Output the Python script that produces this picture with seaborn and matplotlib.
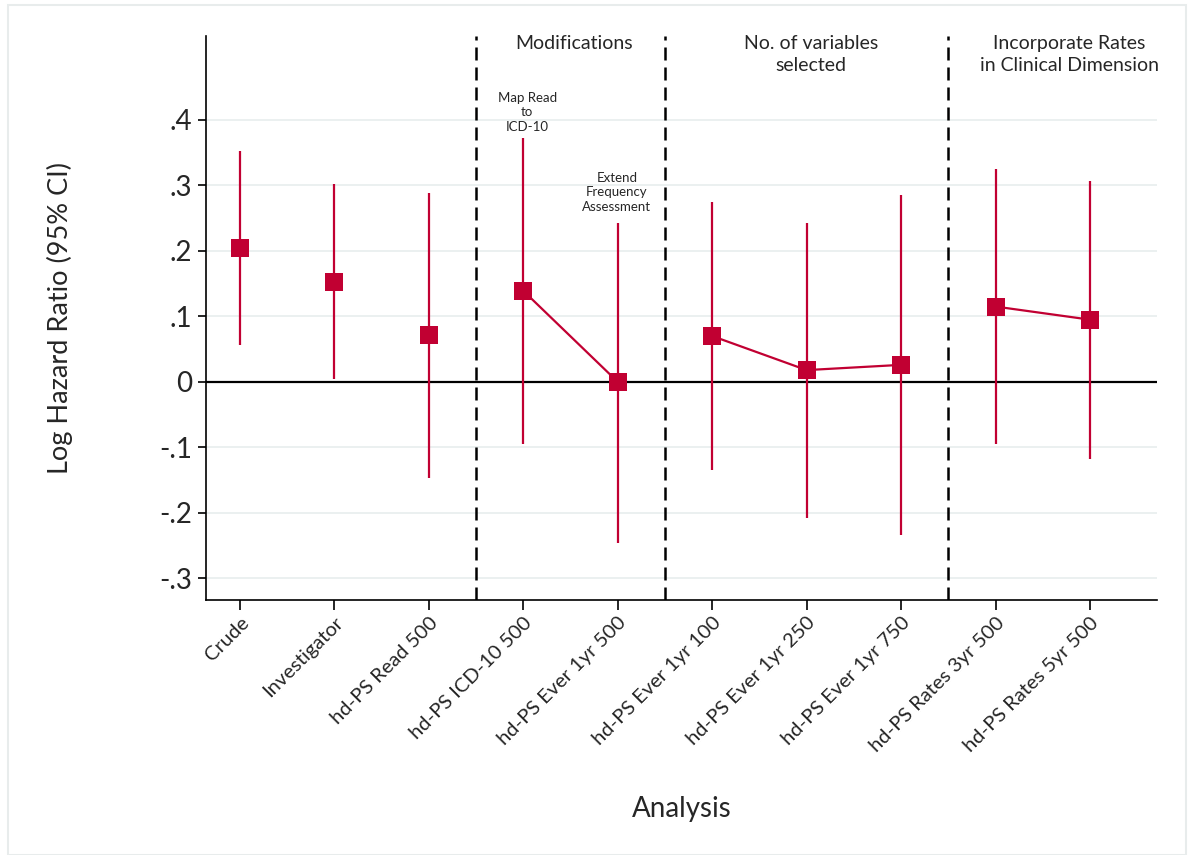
import matplotlib
matplotlib.use("Agg")
import matplotlib.pyplot as plt
import seaborn as sns
import pandas as pd
import numpy as np
from matplotlib.patches import Rectangle

# ---- data ----
analyses = ["Crude", "Investigator", "hd-PS Read 500", "hd-PS ICD-10 500",
            "hd-PS Ever 1yr 500", "hd-PS Ever 1yr 100", "hd-PS Ever 1yr 250",
            "hd-PS Ever 1yr 750", "hd-PS Rates 3yr 500", "hd-PS Rates 5yr 500"]
estimate = [0.205, 0.153, 0.071, 0.139, 0.000, 0.070, 0.018, 0.026, 0.115, 0.095]
lower = [0.057, 0.005, -0.147, -0.095, -0.246, -0.135, -0.208, -0.233, -0.095, -0.117]
upper = [0.353, 0.302, 0.289, 0.372, 0.243, 0.274, 0.242, 0.285, 0.325, 0.306]
group = ["a", "b", "c", "mod", "mod", "nvar", "nvar", "nvar", "rates", "rates"]
yticks = [-0.3, -0.2, -0.1, 0.0, 0.1, 0.2, 0.3, 0.4]
ytick_labels = ["-.3", "-.2", "-.1", "0", ".1", ".2", ".3", ".4"]
section_titles = ["Modifications", "No. of variables\nselected",
                  "Incorporate Rates\nin Clinical Dimension"]
notes = ["Map Read\nto\nICD-10", "Extend\nFrequency\nAssessment"]

df = pd.DataFrame({"analysis": analyses, "pos": np.arange(len(analyses)),
                   "est": estimate, "lo": lower, "hi": upper, "group": group})

RED = "#C10032"
FONT = ["Lato", "DejaVu Sans"]

sns.set_theme(style="white")
plt.rcParams["font.family"] = FONT

fig = plt.figure(figsize=(11.88, 8.55), dpi=100)
ax = fig.add_axes([0.1734, 0.2982, 0.8005, 0.6597])

# outer faint border
fig.patches.append(Rectangle((8 / 1188, 0), (1186 - 8) / 1188, (855 - 5) / 855,
                             transform=fig.transFigure, fill=False,
                             edgecolor="#e8ecec", lw=1.5, zorder=0))

# gridlines
for yv in yticks:
    if yv != 0:
        ax.axhline(yv, color="#e9efef", lw=1.3, zorder=0)
ax.axhline(0, color="black", lw=1.6, zorder=1)

# CIs
ax.vlines(df["pos"], df["lo"], df["hi"], color=RED, lw=1.6, zorder=2)

# connecting lines within groups
multi = df[df["group"].isin(["mod", "nvar", "rates"])]
sns.lineplot(data=multi, x="pos", y="est", units="group", estimator=None,
             color=RED, lw=1.6, ax=ax, zorder=3, legend=False)

# points
sns.scatterplot(data=df, x="pos", y="est", marker="s", s=170, color=RED,
                edgecolor=RED, linewidth=0, ax=ax, zorder=4, legend=False)

# dashed separators
for xv in [2.5, 4.5, 7.5]:
    ax.axvline(xv, color="black", lw=1.8, dashes=(5.2, 2.8), zorder=1)

ax.set_xlim(-0.36, 9.71)
ax.set_ylim(-0.333, 0.528)

ax.set_yticks(yticks)
ax.set_yticklabels(ytick_labels, fontsize=20)
ax.set_xticks(df["pos"])
ax.set_xticklabels(analyses, rotation=45, ha="right", rotation_mode="anchor",
                   fontsize=14.5)
ax.tick_params(axis="y", direction="out", length=6, width=1.2, color="black",
               left=True, pad=4)
ax.tick_params(axis="x", direction="out", length=7, width=1.2, color="black",
               bottom=True, pad=3)

for s in ["top", "right"]:
    ax.spines[s].set_visible(False)
for s in ["left", "bottom"]:
    ax.spines[s].set_color("black")
    ax.spines[s].set_linewidth(1.2)

ax.set_xlabel("Analysis", fontsize=20, labelpad=30)
ax.set_ylabel("Log Hazard Ratio (95% CI)", fontsize=19.5, labelpad=62)

# section titles
tx = [3.54, 6.05, 8.78]
for x, t in zip(tx, section_titles):
    ax.text(x, 0.529, t, ha="center", va="top", fontsize=14,
            linespacing=1.3)

ax.text(3.04, 0.443, notes[0], ha="center", va="top", fontsize=9.5,
        linespacing=1.25)
ax.text(3.99, 0.321, notes[1], ha="center", va="top", fontsize=9.5,
        linespacing=1.25)

fig.savefig("out.png", dpi=100)
